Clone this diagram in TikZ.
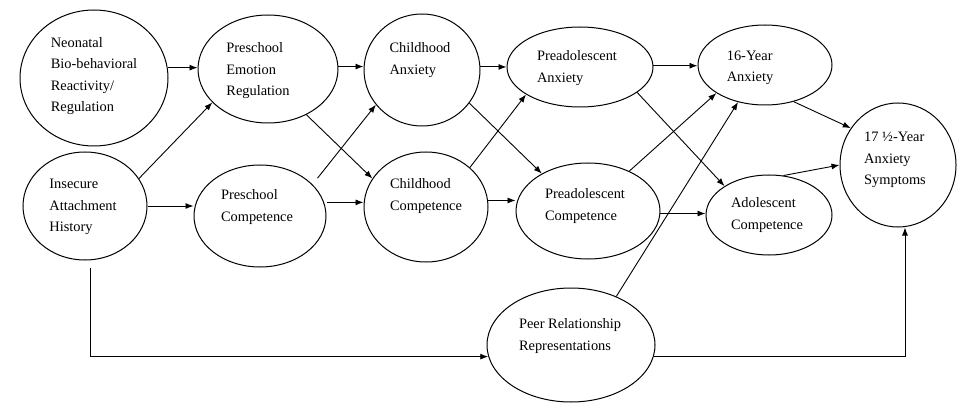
\documentclass[tikz,border=0pt]{standalone}
\usepackage{fontspec}
\setmainfont{Liberation Serif}
\usetikzlibrary{arrows.meta,shapes.geometric}
\begin{document}
\begin{tikzpicture}[x=1pt,y=-1pt,
  ell/.style={draw, ellipse, line width=1pt, inner sep=0pt},
  txt/.style={align=left, inner sep=0pt, font=\fontsize{14.4}{21.5}\selectfont},
  arr/.style={-{Latex[length=8pt,width=6pt]}, line width=0.9pt}]
\useasboundingbox (0,0) rectangle (966,406);
% ellipses
\node[ell, minimum width=148pt, minimum height=136pt] (neo)  at (94,78)  {};
\node[ell, minimum width=140pt, minimum height=108pt] (per)  at (268,69) {};
\node[ell, minimum width=124pt, minimum height=108pt] (ins)  at (85,206) {};
\node[ell, minimum width=132pt, minimum height=102pt] (pc)   at (260,216) {};
\node[ell, minimum width=116pt, minimum height=112pt] (cha)  at (422,70) {};
\node[ell, minimum width=124pt, minimum height=110pt] (chc)  at (426,207) {};
\node[ell, minimum width=146pt, minimum height=80pt]  (paa)  at (580,67) {};
\node[ell, minimum width=144pt, minimum height=96pt]  (pac)  at (588,211) {};
\node[ell, minimum width=168pt, minimum height=114pt] (peer) at (571,345) {};
\node[ell, minimum width=134pt, minimum height=80pt]  (y16)  at (765,65) {};
\node[ell, minimum width=126pt, minimum height=80pt]  (adc)  at (769,215) {};
\node[ell, minimum width=116pt, minimum height=124pt] (y17)  at (898,165) {};
% texts
\node[txt] (neot)  at ([shift={(0,-2)}]neo)   {Neonatal\\Bio-behavioral\\Reactivity/\\Regulation};
\node[txt] (pert)  at ([shift={(-10,2)}]per)  {Preschool\\Emotion\\Regulation};
\node[txt] (inst)  at ([shift={(-2,1)}]ins)   {Insecure\\Attachment\\History};
\node[txt] (pct)   at ([shift={(-3,-9)}]pc)   {Preschool\\Competence};
\node[txt] (chat)  at ([shift={(-2,-10)}]cha) {Childhood\\Anxiety};
\node[txt] (chct)  at ([shift={(0,-11)}]chc)  {Childhood\\Competence};
\node[txt] (paat)  at ([shift={(-3,1)}]paa)   {Preadolescent\\Anxiety};
\node[txt] (pact)  at ([shift={(-3,-5)}]pac)  {Preadolescent\\Competence};
\node[txt] (peert) at ([shift={(-1,-9)}]peer) {Peer Relationship\\Representations};
\node[txt] (y16t)  at ([shift={(-15,3)}]y16)  {16-Year\\Anxiety};
\node[txt] (adct)  at ([shift={(-2,0)}]adc)   {Adolescent\\Competence};
\node[txt] (y17t)  at ([shift={(-3,-5)}]y17)  {17 ½-Year\\Anxiety\\Symptoms};
% connectors
\draw[arr] (neo.8) -- (per.west |- neo.8);
\draw[arr] (ins.27) -- (per.211);
\draw[arr] (ins.0) -- (pc.west |- ins.0);
\draw[arr] ([xshift=5pt,yshift=-7pt]ins.south) |- (peer.188);
\draw[arr] (per.2) -- (cha.west |- per.2);
\draw[arr] (per.310) -- (chc.152);
\draw[arr, shorten <=8pt] (pc.31) -- (cha.217);
\draw[arr, shorten <=3pt] (pc.12) -- (chc.west |- pc.12);
\draw[arr] (cha.3) -- (paa.west |- cha.3);
\draw[arr] (cha.325) -- (pac.141);
\draw[arr] (chc.42) -- (paa.207);
\draw[arr] (chc.6) -- (pac.west |- chc.6);
\draw[arr] (paa.1) -- (y16.west |- paa.1);
\draw[arr] (paa.336) -- (adc.147);
\draw[arr] (pac.44) -- (y16.210);
\draw[arr] (pac.358) -- (adc.west |- pac.358);
\draw[arr] (peer.47) -- (y16.234);
\draw[arr] (y16.308) -- (y17.142);
\draw[arr] (adc.70) -- (y17.180);
\draw[arr] (peer.352) -| ([xshift=7pt]y17.south);
\end{tikzpicture}
\end{document}
